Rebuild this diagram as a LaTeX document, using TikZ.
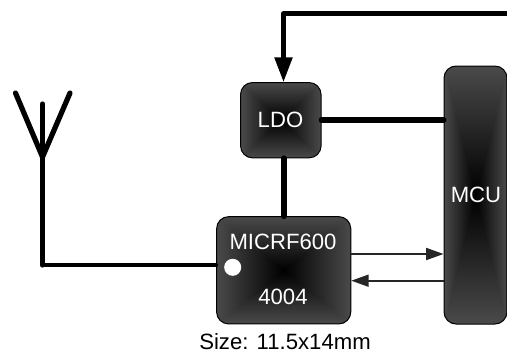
\documentclass[tikz,border=0pt]{standalone}
\usepackage{fontspec}
\setmainfont{Liberation Sans}
\usetikzlibrary{arrows.meta}

\pgfdeclarefunctionalshading{boxglow}{\pgfpoint{-50bp}{-50bp}}{\pgfpoint{50bp}{50bp}}{}{
    abs exch abs 2 copy gt {pop} {exch pop} ifelse 25 div 0.29 mul dup dup
}

\tikzset{
    block/.style = {draw = black, line width = 0.75pt, rounded corners = 9pt, shading = boxglow, inner sep = 0pt},
    label/.style = {text = white, inner sep = 0pt},
    thickwire/.style = {line width = 4.5pt, line cap = round, line join = round},
    antennawire/.style = {line width = 3.9pt, line cap = round, line join = round},
    midwire/.style = {line width = 3.2pt, line cap = round, line join = round},
    thinwire/.style = {line width = 1.2pt, draw = black!85},
    bigtip/.style = {-{Triangle[length = 18.5pt, width = 13pt]}},
    smalltip/.style = {-{Triangle[length = 13pt, width = 9pt]}},
}

\begin{document}
\begin{tikzpicture}[x = 0.75pt, y = -0.75pt, font = \fontsize{16.6}{20}\selectfont]
    \useasboundingbox (0,0) rectangle (507,354);

    % blocks
    \node [block, minimum width = 60.4pt, minimum height = 56.5pt] (ldo) at (280.8,120.2) {};
    \node [block, minimum width = 100.6pt, minimum height = 80.5pt] (micrf) at (283.7,270.3) {};
    \node [block, minimum width = 47.2pt, minimum height = 193.5pt] (mcu) at (475.5,195) {};

    \node [label] (ldotext) at (280.5,120) {LDO};
    \node [label] (mcutext) at (476,195) {MCU};
    \node [label] (micrftext) at (283,242) {MICRF600};
    \node [label] (codetext) at (283,296.5) {4004};
    \node [fill = white, circle, inner sep = 0pt, minimum size = 12.8pt] (dot) at (232.7,267.3) {};
    \node (size) at (285,341.5) {Size: 11.5x14mm};

    % antenna
    \coordinate (foot) at (42.5,265);
    \coordinate (fork) at (42.5,157);
    \coordinate (mast) at (42.5,104);
    \coordinate (prongl) at (15.5,93);
    \coordinate (prongr) at (70,93);

    \draw [antennawire] (prongl) -- (fork) -- (prongr);
    \draw [antennawire] (mast) -- (foot);
    \draw [midwire] (foot) -- (foot -| micrf.west);

    % wires
    \coordinate (topright) at (507,13.5);
    \coordinate (topleft) at (283.5,13.5);
    \coordinate (txline) at (351,254);
    \coordinate (rxline) at (351,280.7);

    \draw [midwire, line cap = butt] (topright) -- (topleft) -- (topleft |- 0,70);
    \draw [bigtip, line width = 3.2pt] (topleft |- 0,60) -- (topleft |- ldo.north);
    \draw [thickwire] (ldo.east) -- (ldo.east -| mcu.west);
    \draw [thickwire] (topleft |- ldo.south) -- (topleft |- micrf.north);
    \draw [thinwire, smalltip] (txline -| micrf.east) -- (txline -| mcu.west);
    \draw [thinwire, smalltip] (rxline -| mcu.west) -- (rxline -| micrf.east);
\end{tikzpicture}
\end{document}
